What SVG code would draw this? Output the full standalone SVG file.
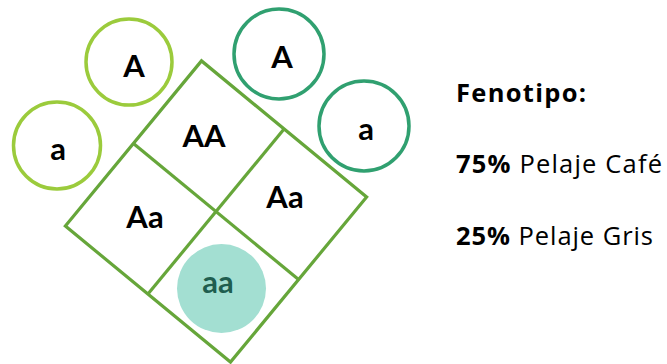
<svg xmlns="http://www.w3.org/2000/svg" width="667" height="364" viewBox="0 0 667 364">
  <style>
    .lbl { font-family: "Lato", "Noto Sans", "Liberation Sans", sans-serif; font-weight: 700; font-size: 31px; fill: #000; text-anchor: middle; }
    .ring-l { fill: none; stroke: #9BCB3C; stroke-width: 3.5; }
    .ring-d { fill: none; stroke: #30A070; stroke-width: 3.5; }
    .grid { fill: none; stroke: #66A63A; stroke-width: 3.2; }
    .info { font-family: "Open Sans", "Noto Sans", "Liberation Sans", sans-serif; font-size: 25.5px; fill: #000; }
  </style>
  <rect width="667" height="364" fill="#fff"/>

  <!-- Punnett square, rotated -->
  <g id="punnett">
    <g transform="translate(216,211.5) rotate(39.5)">
      <rect class="grid" x="-107" y="-107" width="214" height="214"/>
      <line class="grid" x1="0" y1="-107" x2="0" y2="107"/>
      <line class="grid" x1="-107" y1="0" x2="107" y2="0"/>
    </g>
  </g>

  <g id="cell-aa">
    <circle cx="221.5" cy="288.5" r="44.5" fill="#A3DFD2"/>
    <text class="lbl" x="218" y="293" style="fill:#1F5E4F">aa</text>
  </g>
  <g id="cell-AA"><text class="lbl" x="204" y="147">AA</text></g>
  <g id="cell-Aa-left"><text class="lbl" x="145" y="228">Aa</text></g>
  <g id="cell-Aa-right"><text class="lbl" x="285" y="208">Aa</text></g>

  <!-- parent alleles -->
  <g id="allele-A-light">
    <circle class="ring-l" cx="129" cy="62" r="43"/>
    <text class="lbl" x="134" y="77">A</text>
  </g>
  <g id="allele-a-light">
    <circle class="ring-l" cx="57" cy="145.5" r="43.5"/>
    <text class="lbl" x="58" y="160">a</text>
  </g>
  <g id="allele-A-dark">
    <circle class="ring-d" cx="279" cy="54" r="45"/>
    <text class="lbl" x="282" y="68">A</text>
  </g>
  <g id="allele-a-dark">
    <circle class="ring-d" cx="364" cy="126" r="45"/>
    <text class="lbl" x="366" y="140">a</text>
  </g>

  <!-- phenotype summary -->
  <g id="phenotype">
    <text class="info" x="456" y="101.5" font-weight="700" textLength="130" lengthAdjust="spacing">Fenotipo:</text>
    <text class="info" x="456" y="173" textLength="206" lengthAdjust="spacing"><tspan font-weight="700">75%</tspan> Pelaje Café</text>
    <text class="info" x="456" y="245" textLength="197" lengthAdjust="spacing"><tspan font-weight="700">25%</tspan> Pelaje Gris</text>
  </g>
</svg>
